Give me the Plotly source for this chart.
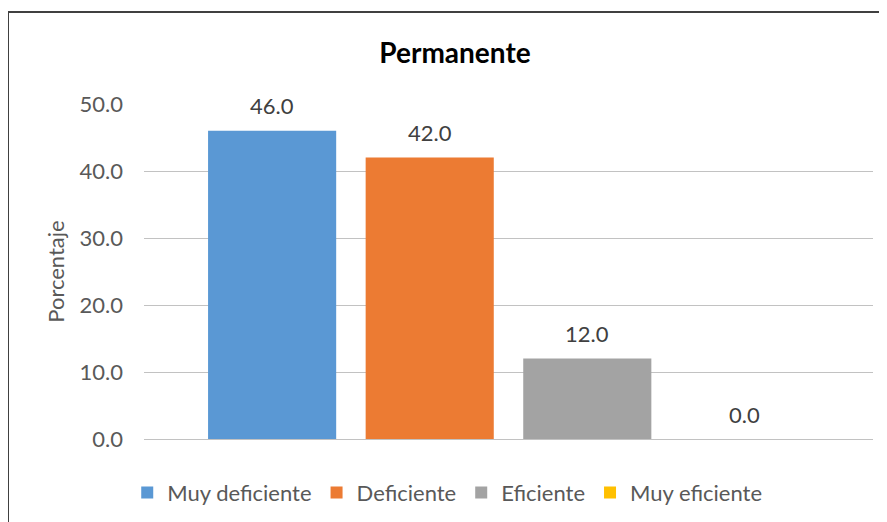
import plotly.graph_objects as go

categories = ["Muy deficiente", "Deficiente", "Eficiente", "Muy eficiente"]
values = [46.0, 42.0, 12.0, 0.0]
colors = ["#5A98D4", "#EC7B33", "#A3A3A3", "#FFC000"]
y_ticks = [0, 10, 20, 30, 40, 50]

# page body has an 8px default margin; compensate
OFF = 8
L, T, PW, PH = 144 - OFF, 104 - OFF, 729, 335

fig = go.Figure()
for name, v, c in zip(categories, values, colors):
    fig.add_trace(go.Bar(
        x=[name], y=[v], name=name, width=0.813,
        marker=dict(color=c, line=dict(width=0)),
    ))
    fig.add_annotation(
        x=name, y=v, text=f"{v:.1f}", showarrow=False,
        yanchor="middle", yshift=25,
        font=dict(family="Lato", size=22, color="#404040"),
    )

fig.update_layout(
    width=887, height=522,
    margin=dict(l=L, r=887 - L - PW, t=T, b=522 - T - PH),
    paper_bgcolor="white", plot_bgcolor="white",
    barmode="overlay",
    font=dict(family="Lato", size=22, color="#595959"),
    title=dict(text="<b>Permanente</b>", x=(455 - OFF) / 887, xref="container", xanchor="center",
               y=1 - (53 - OFF) / 522, yref="container", yanchor="middle",
               font=dict(family="Lato", size=28, color="#000000")),
    xaxis=dict(type="category", range=[-0.813, 3.813], showticklabels=False,
               showgrid=False, zeroline=False, showline=False, fixedrange=True),
    yaxis=dict(range=[0, 50], tickvals=y_ticks, tickformat=".1f",
               showgrid=True, gridcolor="#C2C2C2", gridwidth=1,
               zeroline=True, zerolinecolor="#C2C2C2", zerolinewidth=1,
               showline=False, ticklabelstandoff=20,
               title=dict(text="Porcentaje", standoff=8,
                          font=dict(family="Lato", size=22, color="#595959")),
               tickfont=dict(family="Lato", size=22, color="#595959")),
    showlegend=True,
    legend=dict(orientation="h", x=-0.023, xanchor="left", y=-0.16, yanchor="middle",
                font=dict(family="Lato", size=22, color="#595959"),
                bgcolor="rgba(0,0,0,0)", itemclick=False, itemdoubleclick=False),
    shapes=[dict(type="rect", xref="paper", yref="paper",
                 x0=(8 - 144) / PW, x1=1.2, y0=-0.5, y1=1 + (104 - 12) / PH,
                 line=dict(color="#404040", width=2), fillcolor="rgba(0,0,0,0)",
                 layer="below")],
)

fig.write_html("out.html")
